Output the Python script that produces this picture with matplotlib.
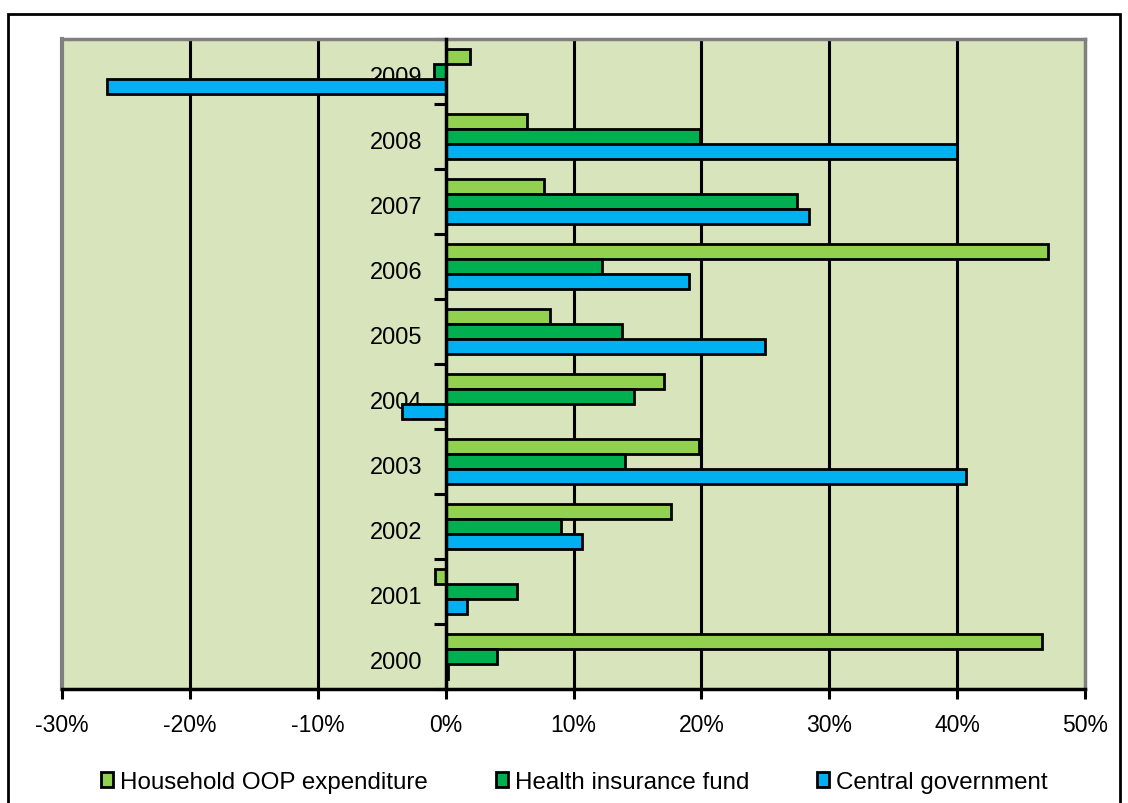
import matplotlib
matplotlib.use("Agg")
import matplotlib.pyplot as plt
from matplotlib.patches import Patch, Rectangle
from matplotlib.ticker import FixedLocator, FuncFormatter
import matplotlib.transforms as mtransforms
import numpy as np

years = ['2000', '2001', '2002', '2003', '2004', '2005', '2006', '2007', '2008', '2009']
household_oop = [46.6, -0.85, 17.6, 19.8, 17.1, 8.2, 47.1, 7.7, 6.4, 1.9]
health_insurance = [4.0, 5.6, 9.0, 14.0, 14.7, 13.8, 12.2, 27.5, 19.9, -0.9]
central_gov = [0.2, 1.7, 10.7, 40.7, -3.4, 25.0, 19.0, 28.4, 40.0, -26.5]
series_names = ['Household OOP expenditure', 'Health insurance fund', 'Central government']
colors = ['#92D050', '#00B050', '#00B0F0']
xticks = [-30, -20, -10, 0, 10, 20, 30, 40, 50]

plt.rcParams['font.family'] = ['Liberation Sans', 'DejaVu Sans']

fig = plt.figure(figsize=(11.28, 8.04), dpi=100)
ax = fig.add_axes([62/1128, 1-690/804, (1085-62)/1128, (690-40)/804])
ax.set_facecolor('#D8E4BC')

y = np.arange(len(years))
h = 0.232
for vals, off, c in zip([household_oop, health_insurance, central_gov], [h, 0, -h], colors):
    ax.barh(y + off, vals, height=h, color=c, edgecolor='black', linewidth=2, zorder=3)

ax.set_xlim(-30, 50)
ax.set_ylim(-0.5, len(years) - 0.5)

# gridlines
for xv in xticks:
    if xv not in (-30, 0, 50):
        ax.axvline(xv, color='black', linewidth=2.2, zorder=1)

# spines
for s in ['top', 'right']:
    ax.spines[s].set_color('#808080')
    ax.spines[s].set_linewidth(2.5)
ax.spines['bottom'].set_color('black')
ax.spines['bottom'].set_linewidth(2.5)
ax.spines['left'].set_position(('data', 0))
ax.spines['left'].set_color('black')
ax.spines['left'].set_linewidth(2.5)
ax.spines['left'].set_zorder(4)
ax.plot([0, 0], [0, 1], transform=ax.transAxes, color='#808080', linewidth=3, clip_on=False, zorder=0.5)

ax.set_xticks(xticks)
ax.xaxis.set_major_formatter(FuncFormatter(lambda v, p: f'{int(round(v))}%'))
ax.tick_params(axis='x', direction='out', length=7, width=2.2, color='black', pad=10, labelsize=16.5)

ax.set_yticks(y)
ax.set_yticklabels(years)
ax.yaxis.set_minor_locator(FixedLocator(np.arange(-0.5, len(years), 1.0)))
ax.tick_params(axis='y', which='major', length=0, pad=17, labelsize=17)
ax.tick_params(axis='y', which='minor', direction='out', length=9, width=2.2, color='black')
shift = mtransforms.ScaledTranslation(0, -3/100, fig.dpi_scale_trans)
for lab in ax.get_yticklabels():
    lab.set_transform(lab.get_transform() + shift)

handles = [Patch(facecolor=c, edgecolor='black', linewidth=2) for c in colors]
fig.legend(handles, series_names, loc='center', bbox_to_anchor=(574.5/1128, 1-783/804), ncol=3,
           frameon=False, fontsize=17.4, handlelength=0.5, handleheight=0.64,
           handletextpad=0.3, columnspacing=2.8)

# outer chart border
fig.patches.append(Rectangle((8/1128, -0.02), (1120-8)/1128, 1.02-15/804, transform=fig.transFigure,
                             fill=False, edgecolor='black', linewidth=2))

fig.savefig('out.png', dpi=100)
